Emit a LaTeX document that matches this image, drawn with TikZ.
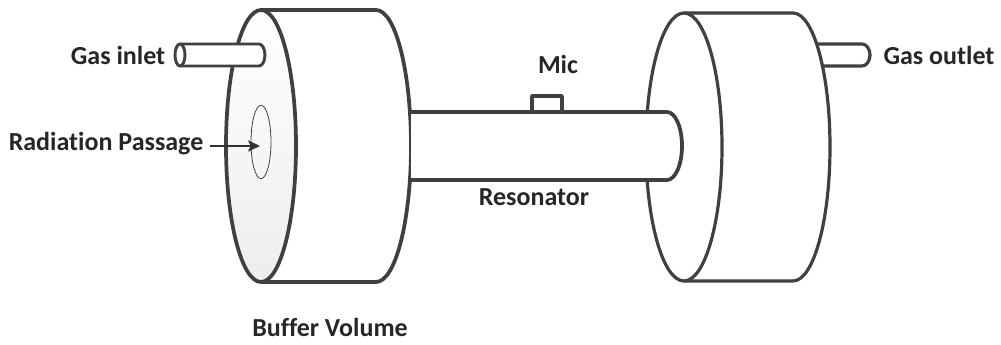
\documentclass[tikz,border=0pt]{standalone}
\usepackage{fontspec}
\setmainfont[Ligatures=NoCommon]{Carlito}
\usetikzlibrary{arrows.meta,shapes.geometric}

\begin{document}
\begin{tikzpicture}[
    x = 0.75pt,
    y = 0.75pt,
    shell/.style = {
      draw = black!75,
      line width = 2.8pt,
      line join = round,
      fill = white
    },
    thinshell/.style = {
      shell,
      line width = 2.4pt
    },
    label/.style = {
      inner sep = 0pt,
      text = black!85,
      font = \fontsize{19.5pt}{22pt}\selectfont\bfseries
    }
  ]
  \useasboundingbox (0,0) rectangle (1001,345);

  % right volume
  \draw[thinshell] (815,301) -- (862,301) arc[start angle=90, end angle=-90, x radius=8, y radius=11] -- (815,279);
  \draw[thinshell] (684,332) -- (793,332) arc[start angle=90, end angle=-90, x radius=37, y radius=134] -- (684,64);
  \draw[thinshell] (684,198) ellipse[x radius=38, y radius=134];

  % left volume
  \draw[shell] (261,335) -- (376,335) arc[start angle=90, end angle=-90, x radius=35, y radius=136] -- (261,63);
  \draw[shell, top color=white, bottom color=black!7] (261,199) ellipse[x radius=35, y radius=136];

  % inlet pipe
  \draw[shell, line width=2.2pt] (180,301) -- (259,301) arc[start angle=90, end angle=-90, x radius=6, y radius=11] -- (180,279);
  \draw[shell, line width=2.2pt] (180,290) ellipse[x radius=5, y radius=11];

  % resonator
  \draw[shell] (532,233) -- (532,249) -- (562,249) -- (562,233);
  \draw[shell] (411,233) -- (667,233) arc[start angle=90, end angle=-90, x radius=15, y radius=34] -- (411,165);

  \node[ellipse, draw=black!75, line width=0.6pt, inner sep=0pt,
    minimum width=15pt, minimum height=55pt] (passage) at (261,203) {};

  \node[label] (inlet) at (118,290) {Gas inlet};
  \node[label] (outlet) at (939,290) {Gas outlet};
  \node[label] (radiation) at (106,201) {Radiation Passage};
  \node[label] (mic) at (558,281) {Mic};
  \node[label] (resonator) at (534,148) {Resonator};
  \node[label] (buffer) at (330,18) {Buffer Volume};

  \coordinate (start) at (210,199);
  \coordinate (target) at (260,199);
  \draw[-{Stealth[length=9pt,width=8.5pt,inset=2pt]}, line width=1.1pt, black!80] (start) -- (target);
\end{tikzpicture}
\end{document}
